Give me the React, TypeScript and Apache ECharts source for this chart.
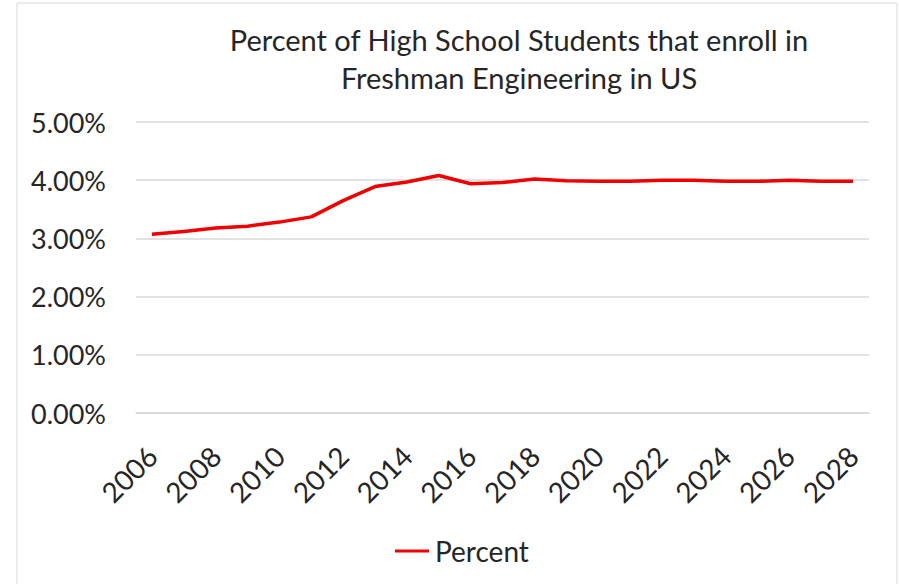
import React, { useEffect, useRef } from "react";
import * as echarts from "echarts";

const years: string[] = [
  "2006", "2007", "2008", "2009", "2010", "2011", "2012", "2013", "2014", "2015", "2016", "2017",
  "2018", "2019", "2020", "2021", "2022", "2023", "2024", "2025", "2026", "2027", "2028",
];
const percentValues: number[] = [
  3.07, 3.12, 3.18, 3.21, 3.28, 3.37, 3.65, 3.89, 3.97, 4.08, 3.94, 3.96,
  4.02, 3.99, 3.98, 3.98, 4.0, 4.0, 3.98, 3.98, 4.0, 3.98, 3.98,
];
const titleLines: string[] = [
  "Percent of High School Students that enroll in",
  "Freshman Engineering in US",
];
const seriesName = "Percent";

const FONT = "Lato, 'Open Sans', sans-serif";
const TEXT = "#262626";

export default function App() {
  const ref = useRef<HTMLDivElement>(null);
  useEffect(() => {
    document.body.style.margin = "0";
    if (!ref.current) return;
    const chart = echarts.init(ref.current, null, { renderer: "svg" });
    chart.setOption({
      animation: false,
      backgroundColor: "#ffffff",
      graphic: [
        {
          type: "rect",
          silent: true,
          z: -10,
          shape: { x: 17, y: 3, width: 880, height: 600 },
          style: { fill: "#ffffff", stroke: "#d9d9d9", lineWidth: 1 },
        },
        {
          type: "text",
          x: 519,
          y: 20,
          style: {
            text: titleLines.join("\n"),
            font: `29px ${FONT}`,
            fill: TEXT,
            textAlign: "center",
            lineHeight: 38,
          },
        },
      ],
      grid: { left: 136, right: 30, top: 122, bottom: 171, containLabel: false },
      legend: {
        data: [seriesName],
        left: 390,
        top: 532,
        icon: "rect",
        itemWidth: 34,
        itemHeight: 3,
        textStyle: { fontFamily: FONT, fontSize: 28, color: TEXT, padding: [0, 0, 0, 1] },
      },
      xAxis: {
        type: "category",
        data: years,
        boundaryGap: true,
        axisTick: { show: false },
        axisLine: { show: true, lineStyle: { color: "#d9d9d9", width: 1.5 } },
        axisLabel: {
          interval: 1,
          rotate: 45,
          margin: 38,
          fontFamily: FONT,
          fontSize: 28,
          color: TEXT,
        },
      },
      yAxis: {
        type: "value",
        min: 0,
        max: 5,
        interval: 1,
        axisLine: { show: false },
        axisTick: { show: false },
        splitLine: { lineStyle: { color: "#d9d9d9", width: 1.5 } },
        axisLabel: {
          margin: 30,
          fontFamily: FONT,
          fontSize: 27,
          color: TEXT,
          formatter: (v: number) => v.toFixed(2) + "%",
        },
      },
      series: [
        {
          name: seriesName,
          type: "line",
          data: percentValues,
          showSymbol: false,
          symbol: "none",
          lineStyle: { color: "#f00000", width: 3.5 },
          itemStyle: { color: "#f00000" },
        },
      ],
    });
    return () => chart.dispose();
  }, []);
  return <div ref={ref} style={{ width: 899, height: 584 }} />;
}
